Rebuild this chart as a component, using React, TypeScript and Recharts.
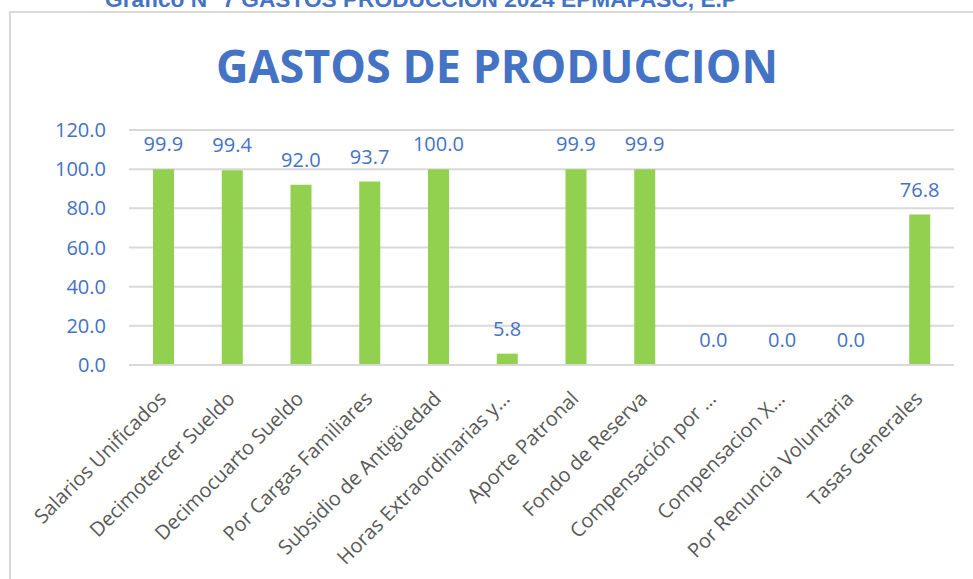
import { Bar, CartesianGrid, ComposedChart, LabelList, Line, XAxis, YAxis } from "recharts";

const categories = [
  "Salarios Unificados",
  "Decimotercer Sueldo",
  "Decimocuarto Sueldo",
  "Por Cargas Familiares",
  "Subsidio de Antigüedad",
  "Horas Extraordinarias y…",
  "Aporte Patronal",
  "Fondo de Reserva",
  "Compensación por …",
  "Compensacion X…",
  "Por Renuncia Voluntaria",
  "Tasas Generales",
];

const values = [99.9, 99.4, 92.0, 93.7, 100.0, 5.8, 99.9, 99.9, 0.0, 0.0, 0.0, 76.8];

const yTicks = [0, 20, 40, 60, 80, 100, 120];

const BLUE = "#4472C4";
const GREEN = "#92D050";
const GRID = "#D9D9D9";
const FONT = "'Open Sans', 'Noto Sans', sans-serif";

const data = categories.map((name, i) => ({ name, value: values[i] }));

function XTick({ x, y, payload }: { x?: number; y?: number; payload?: { value: string } }) {
  return (
    <g transform={`translate(${(x ?? 0) + 4},${(y ?? 0) + 27})`}>
      <text
        textAnchor="end"
        transform="rotate(-45)"
        fill="#595959"
        fontSize={20}
        fontFamily={FONT}
      >
        {payload?.value}
      </text>
    </g>
  );
}

export default function App() {
  return (
    <div
      style={{
        position: "fixed",
        left: 0,
        top: 0,
        width: 973,
        height: 579,
        background: "#fff",
        overflow: "hidden",
      }}
    >
      {/* marco del gráfico */}
      <div
        style={{
          position: "absolute",
          left: 9,
          top: 11,
          width: 1000,
          height: 600,
          border: `2px solid ${GRID}`,
          boxSizing: "border-box",
        }}
      />
      <svg
        width={973}
        height={579}
        style={{ position: "absolute", left: 0, top: 0 }}
      >
        <text
          x={105}
          y={7}
          fontSize={22}
          fontWeight="bold"
          fill={BLUE}
          fontFamily="'Liberation Sans', Arial, sans-serif"
          textLength={632}
          lengthAdjust="spacingAndGlyphs"
        >
          Gráfico N° 7 GASTOS PRODUCCION 2024 EPMAPASC, E.P
        </text>
        <text
          x={216}
          y={83}
          fontSize={47}
          fontWeight="bold"
          fill={BLUE}
          fontFamily={FONT}
          textLength={562}
          lengthAdjust="spacingAndGlyphs"
        >
          GASTOS DE PRODUCCION
        </text>
      </svg>
      <div style={{ position: "absolute", left: 0, top: 0 }}>
        <ComposedChart
          width={973}
          height={579}
          data={data}
          margin={{ top: 130, right: 19, bottom: 0, left: 0 }}
        >
          <CartesianGrid horizontal vertical={false} stroke={GRID} strokeWidth={2} />
          <XAxis
            dataKey="name"
            height={214}
            interval={0}
            axisLine={{ stroke: GRID, strokeWidth: 2 }}
            tickLine={false}
            tick={<XTick />}
          />
          <YAxis
            width={129}
            domain={[0, 120]}
            ticks={yTicks}
            axisLine={false}
            tickLine={false}
            tickMargin={17}
            tick={{ fill: BLUE, fontSize: 20, fontFamily: FONT }}
            tickFormatter={(v: number) => v.toFixed(1)}
          />
          <Bar dataKey="value" fill={GREEN} barSize={21} isAnimationActive={false} />
          {/* etiquetas de datos (también para los valores 0.0) */}
          <Line
            dataKey="value"
            stroke="none"
            dot={false}
            activeDot={false}
            legendType="none"
            isAnimationActive={false}
          >
            <LabelList
              dataKey="value"
              position="top"
              offset={18}
              fill={BLUE}
              fontSize={20}
              fontFamily={FONT}
              formatter={(v: number) => Number(v).toFixed(1)}
            />
          </Line>
        </ComposedChart>
      </div>
    </div>
  );
}
